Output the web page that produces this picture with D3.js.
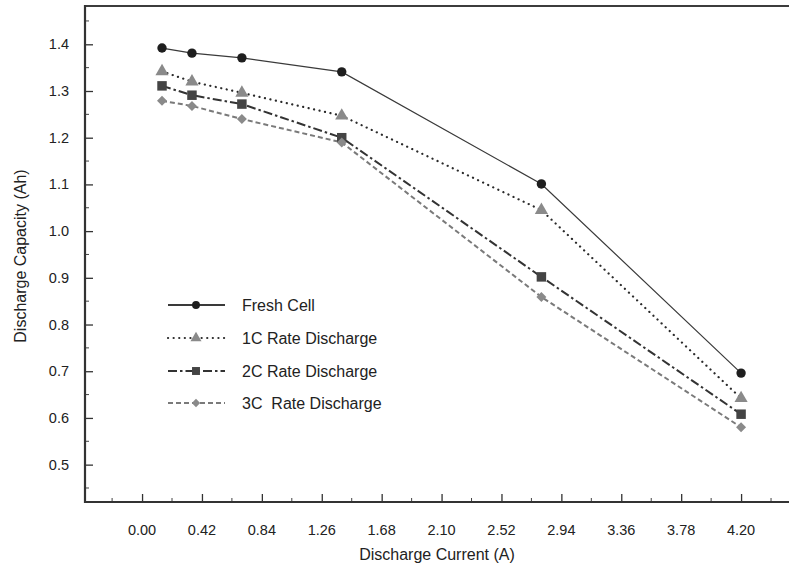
<!DOCTYPE html>
<html><head><meta charset="utf-8">
<script src="https://cdn.jsdelivr.net/npm/d3@7"></script>
<style>body{margin:0;background:#fff;} svg{display:block;}</style>
</head><body>
<svg id="chart" width="789" height="571"></svg>
<script>
const currents = [0.14, 0.35, 0.70, 1.40, 2.80, 4.20];
const seriesNames = ["Fresh Cell", "1C Rate Discharge", "2C Rate Discharge", "3C  Rate Discharge"];
const freshCell = [1.392, 1.381, 1.371, 1.341, 1.101, 0.696];
const rate1C = [1.342, 1.320, 1.296, 1.247, 1.045, 0.642];
const rate2C = [1.311, 1.291, 1.272, 1.200, 0.902, 0.608];
const rate3C = [1.279, 1.268, 1.240, 1.190, 0.859, 0.580];
const xTicks = [0.00, 0.42, 0.84, 1.26, 1.68, 2.10, 2.52, 2.94, 3.36, 3.78, 4.20];
const yTicks = [0.5, 0.6, 0.7, 0.8, 0.9, 1.0, 1.1, 1.2, 1.3, 1.4];

const svg = d3.select("#chart");
const font = "'Liberation Sans', Arial, sans-serif";
const x = d3.scaleLinear().domain([-0.40, 4.55]).range([85, 791]);
const y = d3.scaleLinear().domain([0.42, 1.482]).range([502, 6]);

const styles = [
  {stroke:"#3a3a3a", width:1.2, dash:null, cap:"butt", marker:"circle", fill:"#1e1e1e"},
  {stroke:"#2a2a2a", width:2.2, dash:"0.1,5.5", cap:"round", marker:"triangle", fill:"#8a8a8a"},
  {stroke:"#333333", width:2, dash:"9,3,2.5,3", cap:"butt", marker:"square", fill:"#444444"},
  {stroke:"#7a7a7a", width:2, dash:"5,3", cap:"butt", marker:"diamond", fill:"#8a8a8a"}
];
const data = [freshCell, rate1C, rate2C, rate3C];

// top line
svg.append("line").attr("x1", 85).attr("x2", 789).attr("y1", 6).attr("y2", 6)
  .attr("stroke", "#3c3c3c").attr("stroke-width", 2);
// y axis
const yAxis = d3.axisRight(y).tickValues(yTicks).tickSize(8).tickFormat("");
const yg = svg.append("g").attr("transform", "translate(85,0)").call(yAxis);
yg.select(".domain").remove();
yg.selectAll(".tick line").attr("stroke", "#333").attr("stroke-width", 1.3);
const yMinor = d3.range(0.45, 1.48, 0.1).map(v => +v.toFixed(2));
svg.append("g").selectAll("line").data(yMinor).join("line")
  .attr("x1", 85).attr("x2", 89).attr("y1", d => y(d)).attr("y2", d => y(d))
  .attr("stroke", "#444").attr("stroke-width", 1);
svg.append("g").selectAll("text").data(yTicks).join("text")
  .attr("x", 69).attr("y", d => y(d) + 5).attr("text-anchor", "end")
  .attr("font-family", font).attr("font-size", 14.5).attr("fill", "#222")
  .text(d => d.toFixed(1));

// x axis
const xAxis = d3.axisTop(x).tickValues(xTicks).tickSize(8).tickFormat("");
const xg = svg.append("g").attr("transform", "translate(0,502)").call(xAxis);
xg.select(".domain").remove();
xg.selectAll(".tick line").attr("stroke", "#333").attr("stroke-width", 1.3);
const xMinor = d3.range(-0.21, 4.5, 0.42).map(v => +v.toFixed(2));
svg.append("g").selectAll("line").data(xMinor).join("line")
  .attr("x1", d => x(d)).attr("x2", d => x(d)).attr("y1", 502).attr("y2", 498)
  .attr("stroke", "#444").attr("stroke-width", 1);
svg.append("g").selectAll("text").data(xTicks).join("text")
  .attr("x", d => x(d)).attr("y", 535).attr("text-anchor", "middle")
  .attr("font-family", font).attr("font-size", 14.5).attr("fill", "#222")
  .text(d => d.toFixed(2));

// axis lines
svg.append("line").attr("x1", 85).attr("x2", 85).attr("y1", 5).attr("y2", 503)
  .attr("stroke", "#333").attr("stroke-width", 2.2);
svg.append("line").attr("x1", 84).attr("x2", 789).attr("y1", 502).attr("y2", 502)
  .attr("stroke", "#333").attr("stroke-width", 2.2);

// labels
svg.append("text").attr("x", 437).attr("y", 560).attr("text-anchor", "middle")
  .attr("font-family", font).attr("font-size", 16).attr("fill", "#222")
  .text("Discharge Current (A)");
svg.append("text").attr("transform", "translate(26,256) rotate(-90)")
  .attr("text-anchor", "middle")
  .attr("font-family", font).attr("font-size", 16).attr("fill", "#222")
  .text("Discharge Capacity (Ah)");

function drawMarker(sel, type, cx, cy, fill, scale) {
  scale = scale || 1;
  if (type === "circle") {
    sel.append("circle").attr("cx", cx).attr("cy", cy).attr("r", 4.7 * Math.sqrt(scale)).attr("fill", fill);
  } else if (type === "diamond") {
    sel.append("path").attr("d", d3.symbol().type(d3.symbolSquare).size(50 * scale)())
      .attr("transform", `translate(${cx},${cy}) rotate(45)`).attr("fill", fill);
  } else {
    const sym = {triangle: d3.symbolTriangle, square: d3.symbolSquare}[type];
    const size = {triangle: 75, square: 90}[type] * scale;
    sel.append("path").attr("d", d3.symbol().type(sym).size(size)())
      .attr("transform", `translate(${cx},${cy})`).attr("fill", fill);
  }
}

const line = d3.line().x((d, i) => x(currents[i])).y(d => y(d));
data.forEach((vals, k) => {
  const s = styles[k];
  const p = svg.append("path").attr("d", line(vals)).attr("fill", "none")
    .attr("stroke", s.stroke).attr("stroke-width", s.width).attr("stroke-linecap", s.cap);
  if (s.dash) p.attr("stroke-dasharray", s.dash);
});
data.forEach((vals, k) => {
  const s = styles[k];
  const mg = svg.append("g");
  vals.forEach((v, i) => drawMarker(mg, s.marker, x(currents[i]), y(v), s.fill));
});

// legend
const legY = [305, 338, 371, 403];
seriesNames.forEach((name, k) => {
  const s = styles[k];
  const lg = svg.append("g");
  const l = lg.append("line").attr("x1", 168).attr("x2", 225).attr("y1", legY[k]).attr("y2", legY[k])
    .attr("stroke", s.stroke).attr("stroke-width", k === 0 ? 2 : s.width).attr("stroke-linecap", s.cap);
  if (s.dash) l.attr("stroke-dasharray", s.dash);
  drawMarker(lg, s.marker, 196, legY[k], s.fill, 0.7);
  lg.append("text").attr("x", 242).attr("y", legY[k] + 5.5)
    .attr("font-family", font).attr("font-size", 16).attr("fill", "#222")
    .attr("xml:space", "preserve").style("white-space", "pre")
    .text(name);
});
</script>
</body></html>
